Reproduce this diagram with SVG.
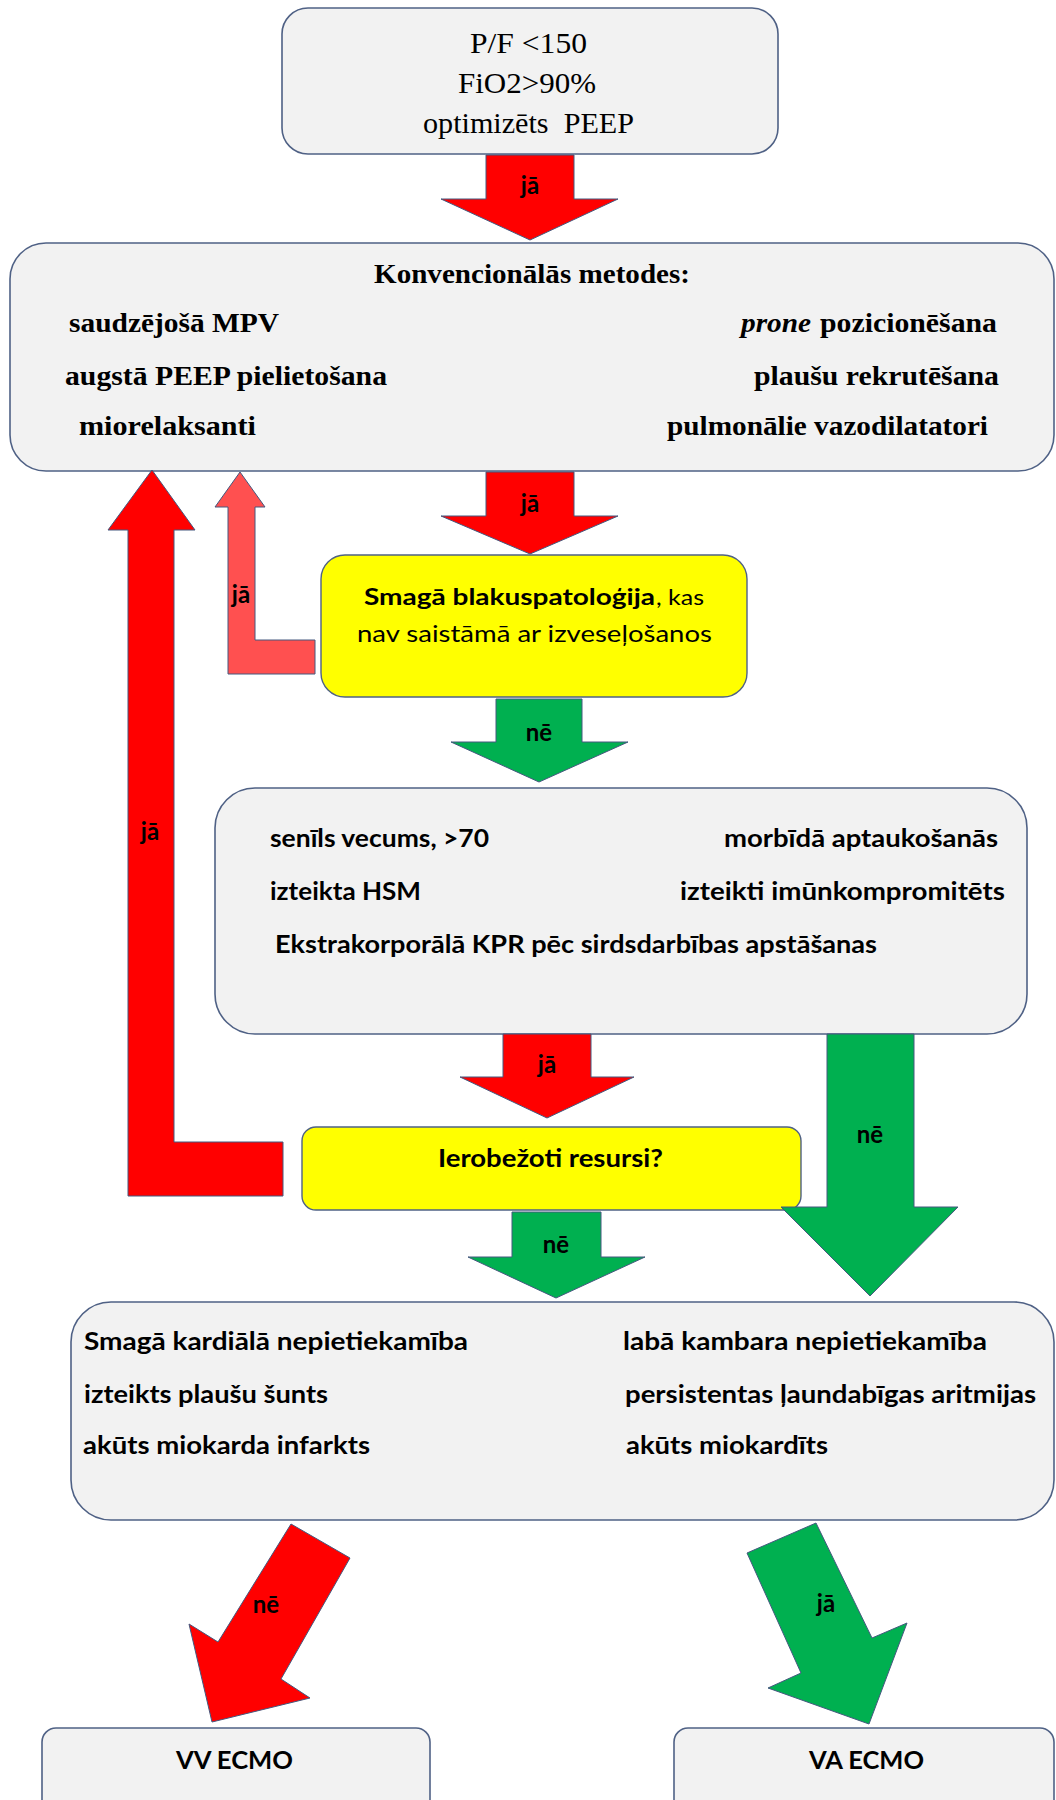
<svg xmlns="http://www.w3.org/2000/svg" width="1056" height="1800" viewBox="0 0 1056 1800">
<style>
.box{fill:#f2f2f2;stroke:#4f6185;stroke-width:1.6}
.yel{fill:#ffff00;stroke:#4f6185;stroke-width:1.4}
.red{fill:#ff0000;stroke:#44587e;stroke-width:1}
.sal{fill:#ff5050;stroke:#44587e;stroke-width:1}
.grn{fill:#00b050;stroke:#44587e;stroke-width:1}
.ser{font-family:"Liberation Serif","Times New Roman",serif;fill:#000}
.sb{font-family:"Liberation Serif","Times New Roman",serif;font-weight:bold;font-size:27px;fill:#000}
.san{font-family:Lato,"Liberation Sans",Arial,sans-serif;fill:#000}
.sbd{font-family:Lato,"Liberation Sans",Arial,sans-serif;font-weight:bold;fill:#000}
.lbl{font-family:Lato,"Liberation Sans",Arial,sans-serif;font-weight:bold;font-size:24px;fill:#000;text-anchor:middle}
</style>
<rect width="1056" height="1800" fill="#ffffff"/>

<g id="node-start">
<rect class="box" x="282" y="8" width="496" height="146" rx="26"/>
<text class="ser" font-size="30" x="470" y="53" textLength="117" lengthAdjust="spacingAndGlyphs">P/F &lt;150</text>
<text class="ser" font-size="30" x="458" y="93" textLength="138" lengthAdjust="spacingAndGlyphs">FiO2&gt;90%</text>
<text class="ser" font-size="30" x="423" y="133" textLength="211" lengthAdjust="spacingAndGlyphs" xml:space="preserve">optimizēts  PEEP</text>
</g>

<g id="node-conventional">
<rect class="box" x="10" y="243" width="1044" height="228" rx="36"/>
<text class="sb" x="374" y="283" textLength="316" lengthAdjust="spacingAndGlyphs">Konvencionālās metodes:</text>
<text class="sb" x="69" y="332" textLength="210" lengthAdjust="spacingAndGlyphs">saudzējošā MPV</text>
<text class="sb" x="741" y="332" textLength="70" lengthAdjust="spacingAndGlyphs" font-style="italic">prone</text>
<text class="sb" x="820" y="332" textLength="177" lengthAdjust="spacingAndGlyphs">pozicionēšana</text>
<text class="sb" x="65" y="385" textLength="322" lengthAdjust="spacingAndGlyphs">augstā PEEP pielietošana</text>
<text class="sb" x="754" y="385" textLength="245" lengthAdjust="spacingAndGlyphs">plaušu rekrutēšana</text>
<text class="sb" x="79" y="435" textLength="177" lengthAdjust="spacingAndGlyphs">miorelaksanti</text>
<text class="sb" x="667" y="435" textLength="321" lengthAdjust="spacingAndGlyphs">pulmonālie vazodilatatori</text>
</g>

<g id="node-comorbidity">
<rect class="yel" x="321" y="555" width="426" height="142" rx="24"/>
<text class="sbd" font-size="22" x="364" y="605" textLength="291" lengthAdjust="spacingAndGlyphs">Smagā blakuspatoloģija</text>
<text class="san" font-size="22" x="656" y="605" textLength="48" lengthAdjust="spacingAndGlyphs">, kas</text>
<text class="san" font-size="24" x="357" y="642" textLength="355" lengthAdjust="spacingAndGlyphs">nav saistāmā ar izveseļošanos</text>
</g>

<g id="node-risk">
<rect class="box" x="215" y="788" width="812" height="246" rx="40"/>
<text class="sbd" font-size="25" x="270" y="847" textLength="219" lengthAdjust="spacingAndGlyphs">senīls vecums, &gt;70</text>
<text class="sbd" font-size="25" x="724" y="847" textLength="274" lengthAdjust="spacingAndGlyphs">morbīdā aptaukošanās</text>
<text class="sbd" font-size="25" x="270" y="900" textLength="151" lengthAdjust="spacingAndGlyphs">izteikta HSM</text>
<text class="sbd" font-size="25" x="680" y="900" textLength="325" lengthAdjust="spacingAndGlyphs">izteikti imūnkompromitēts</text>
<text class="sbd" font-size="25" x="275" y="953" textLength="602" lengthAdjust="spacingAndGlyphs">Ekstrakorporālā KPR pēc sirdsdarbības apstāšanas</text>
</g>

<g id="node-resources">
<rect class="yel" x="302" y="1127" width="499" height="83" rx="14"/>
<text class="sbd" font-size="24" x="438" y="1167" textLength="225" lengthAdjust="spacingAndGlyphs">Ierobežoti resursi?</text>
</g>

<g id="node-cardiac">
<rect class="box" x="71" y="1302" width="983" height="218" rx="40"/>
<text class="sbd" font-size="25" x="84" y="1350" textLength="384" lengthAdjust="spacingAndGlyphs">Smagā kardiālā nepietiekamība</text>
<text class="sbd" font-size="25" x="623" y="1350" textLength="364" lengthAdjust="spacingAndGlyphs">labā kambara nepietiekamība</text>
<text class="sbd" font-size="25" x="84" y="1403" textLength="244" lengthAdjust="spacingAndGlyphs">izteikts plaušu šunts</text>
<text class="sbd" font-size="25" x="625" y="1403" textLength="411" lengthAdjust="spacingAndGlyphs">persistentas ļaundabīgas aritmijas</text>
<text class="sbd" font-size="25" x="83" y="1454" textLength="287" lengthAdjust="spacingAndGlyphs">akūts miokarda infarkts</text>
<text class="sbd" font-size="25" x="626" y="1454" textLength="202" lengthAdjust="spacingAndGlyphs">akūts miokardīts</text>
</g>

<g id="node-vv">
<rect class="box" x="42" y="1728" width="388" height="110" rx="14"/>
<text class="sbd" font-size="25" x="176" y="1769" textLength="117" lengthAdjust="spacingAndGlyphs">VV ECMO</text>
</g>

<g id="node-va">
<rect class="box" x="674" y="1728" width="380" height="110" rx="14"/>
<text class="sbd" font-size="25" x="809" y="1769" textLength="115" lengthAdjust="spacingAndGlyphs">VA ECMO</text>
</g>

<g id="connectors">
<polygon class="red" points="486,155 574,155 574,199 618,199 530,240 441,199 486,199"/>
<text class="lbl" x="530" y="194">jā</text>

<polygon class="red" points="486,472 574,472 574,516 618,516 530,554 441,516 486,516"/>
<text class="lbl" x="530" y="512">jā</text>

<polygon class="sal" points="240,472 265,507 255,507 255,640 315,640 315,674 228,674 228,507 215,507"/>
<text class="lbl" x="241" y="603">jā</text>

<polygon class="grn" points="496,699 582,699 582,742 628,742 539,782 451,742 496,742"/>
<text class="lbl" x="539" y="741">nē</text>

<polygon class="red" points="152,470 195,530 174,530 174,1142 283,1142 283,1196 128,1196 128,530 108,530"/>
<text class="lbl" x="150" y="840">jā</text>

<polygon class="red" points="503,1034 591,1034 591,1077 634,1077 547,1118 460,1077 503,1077"/>
<text class="lbl" x="547" y="1073">jā</text>

<polygon class="grn" points="827,1034 914,1034 914,1207 958,1207 870,1296 781,1207 827,1207"/>
<text class="lbl" x="870" y="1143">nē</text>

<polygon class="grn" points="512,1212 601,1212 601,1257 645,1257 556,1298 468,1257 512,1257"/>
<text class="lbl" x="556" y="1253">nē</text>

<polygon class="red" points="291,1524 350,1558 281,1679 310,1698 212,1722 189,1624 218,1642"/>
<text class="lbl" x="266" y="1613">nē</text>

<polygon class="grn" points="747,1553 816,1523 872,1638 907,1623 869,1724 768,1688 801,1673"/>
<text class="lbl" x="826" y="1612">jā</text>
</g>
</svg>
